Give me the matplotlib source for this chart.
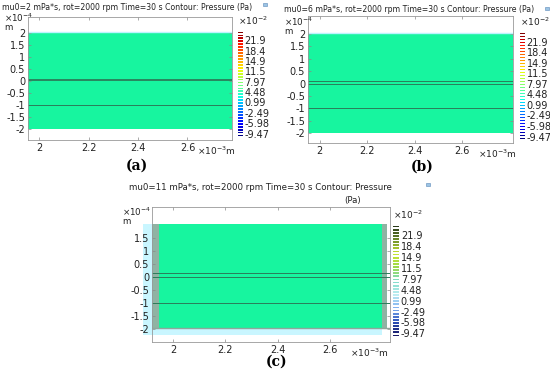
import matplotlib
matplotlib.use('Agg')
import matplotlib.pyplot as plt
import matplotlib.colors as mcolors
from matplotlib.patches import Rectangle
import numpy as np

# shared data
cbar_labels = [21.9, 18.4, 14.9, 11.5, 7.97, 4.48, 0.99, -2.49, -5.98, -9.47]
cbar_range = (-9.8, 24.9)
x_ticks = [2.0, 2.2, 2.4, 2.6]
x_ticklabels = ["2", "2.2", "2.4", "2.6"]

# panel (a)
title_a = "mu0=2 mPa*s, rot=2000 rpm Time=30 s Contour: Pressure (Pa)"
yticks_a = [2, 1.5, 1, 0.5, 0, -0.5, -1, -1.5, -2]
xlim_a = (1.955, 2.78)
ylim_a = (-2.46, 2.67)
fluid_a = (-2.0, 2.05)
band_a = (0.0, 0.08)
lines_a = [-1.0]

# panel (b)
title_b = "mu0=6 mPa*s, rot=2000 rpm Time=30 s Contour: Pressure (Pa)"
yticks_b = [2, 1.5, 1, 0.5, 0, -0.5, -1, -1.5, -2]
xlim_b = (1.95, 2.815)
ylim_b = (-2.4, 2.73)
fluid_b = (-2.0, 2.06)
lines_b = [0.0, 0.1, -1.0]

# panel (c)
title_c = "mu0=11 mPa*s, rot=2000 rpm Time=30 s Contour: Pressure"
yticks_c = [1.5, 1, 0.5, 0, -0.5, -1, -1.5, -2]
xlim_c = (1.92, 2.83)
ylim_c = (-2.5, 2.69)
fluid_c_x = (1.947, 2.80)
fluid_c_y = (-1.96, 2.04)
halo_c_x = (1.885, 2.80)
halo_c_y = (-2.23, 2.04)
wall_c = [(1.92, 1.947), (2.80, 2.82)]
lines_c = [0.0, 0.15, -1.0]

GREEN = '#17f59f'
LINE = '#2b7d5a'
W, H = 550, 373


def rect(l, t, r, b):
    return [l / W, (H - b) / H, (r - l) / W, (b - t) / H]


def style_axes(ax, xlim, ylim, yticks, left, unit_top, unit_dx):
    ax.set_xlim(*xlim)
    ax.set_ylim(*ylim)
    ax.set_xticks(x_ticks)
    ax.set_xticklabels(x_ticklabels)
    ax.set_yticks(yticks)
    ax.set_yticklabels([f"{v:g}" for v in yticks])
    ax.tick_params(direction='in', length=2, width=0.5, colors='#888888',
                   labelcolor='#222222', labelsize=7, pad=2,
                   top=True, right=True)
    for s in ax.spines.values():
        s.set_color('#999999')
        s.set_linewidth(0.6)
    ax.text(0.83, -0.035, "×10$^{-3}$m", transform=ax.transAxes, fontsize=6.5,
            ha='left', va='top', color='#222222')
    fig.text((left - unit_dx) / W, 1 - unit_top / H, "×10$^{-4}$", fontsize=6.3,
             ha='left', va='top', color='#222222')
    fig.text((left - unit_dx) / W, 1 - (unit_top + 11) / H, "m", fontsize=6.3,
             ha='left', va='top', color='#222222')


def colorbar(r, cmap):
    cax = fig.add_axes(rect(*r))
    levels = np.linspace(cbar_range[0], cbar_range[1], 36)
    step = levels[1] - levels[0]
    norm = mcolors.Normalize(*cbar_range)
    cax.barh(levels, 1, height=step * 0.6, color=cmap(norm(levels)), left=0)
    cax.set_xlim(0, 1)
    cax.set_ylim(cbar_range[0] - step / 2, cbar_range[1] + step / 2)
    cax.axis('off')
    for v in cbar_labels:
        cax.text(1.3, v, f"{v:g}", fontsize=7, va='center', ha='left', color='#222222')
    fig.text(r[0] / W, 1 - (r[1] - 4) / H, "×10$^{-2}$", fontsize=6.5,
             ha='left', va='bottom', color='#222222')


def icon(x, y):
    fig.patches.append(Rectangle((x / W, 1 - y / H), 4 / W, 3 / H, transform=fig.transFigure,
                                 facecolor='#9cc4e4', edgecolor='#5a88b8', lw=0.4))


fig = plt.figure(figsize=(5.5, 3.73), dpi=100)

# (a)
ax = fig.add_axes(rect(28, 17, 232, 140))
ax.axhspan(*fluid_a, color=GREEN, lw=0)
ax.axhline(fluid_a[1], color='#bdf3ff', lw=1)
ax.axhspan(*band_a, color=LINE, lw=0, alpha=0.9)
for y in lines_a:
    ax.axhline(y, color=LINE, lw=0.7)
style_axes(ax, xlim_a, ylim_a, yticks_a, 28, 12, 24)
fig.text(127 / W, 1 - 7 / H, title_a, fontsize=5.6, ha='center', va='center', color='#222222')
icon(263, 6)
colorbar((238, 31, 243, 137), plt.get_cmap('jet'))
fig.text(137 / W, 1 - 166 / H, "(a)", fontsize=10, family='DejaVu Serif',
         weight='bold', ha='center', va='center')

# (b)
ax = fig.add_axes(rect(308, 16, 513, 143))
ax.axhspan(*fluid_b, color=GREEN, lw=0)
ax.axhline(fluid_b[1], color='#bdf3ff', lw=1)
for y in lines_b:
    ax.axhline(y, color=LINE, lw=0.7)
style_axes(ax, xlim_b, ylim_b, yticks_b, 308, 16, 24)
fig.text(409 / W, 1 - 9 / H, title_b, fontsize=5.6, ha='center', va='center', color='#222222')
icon(545, 10)
colorbar((520, 32, 525, 140), plt.get_cmap('jet'))
fig.text(422 / W, 1 - 167 / H, "(b)", fontsize=10, family='DejaVu Serif',
         weight='bold', ha='center', va='center')

# (c)
ax = fig.add_axes(rect(152, 207, 390, 342))
ax.fill_between(halo_c_x, halo_c_y[0], halo_c_y[1], color='#c9f6ff', lw=0, clip_on=False)
ax.fill_between(fluid_c_x, fluid_c_y[0], fluid_c_y[1], color=GREEN, lw=0)
for x0, x1 in wall_c:
    ax.fill_between((x0, x1), fluid_c_y[0], fluid_c_y[1], color='#8fb3a3', lw=0)
ax.axhline(fluid_c_y[0], xmin=0, xmax=1, color='#8fa89c', lw=1)
for y in lines_c:
    ax.axhline(y, color=LINE, lw=0.7)
style_axes(ax, xlim_c, ylim_c, yticks_c, 152, 206, 30)
fig.text(260 / W, 1 - 188 / H, title_c, fontsize=6.2, ha='center', va='center', color='#222222')
fig.text(353 / W, 1 - 200 / H, "(Pa)", fontsize=6.2, ha='center', va='center', color='#222222')
icon(426, 186)
cmap_c = mcolors.LinearSegmentedColormap.from_list(
    'c', ['#1a1a66', '#2a4fb8', '#7fb0f0', '#bfeef2', '#7fdcc8', '#9ad84a',
          '#c8e632', '#6f8f2a', '#2a3a1a'])
colorbar((393, 225, 399, 337), cmap_c)
fig.text(277 / W, 1 - 362 / H, "(c)", fontsize=10, family='DejaVu Serif',
         weight='bold', ha='center', va='center')

fig.savefig('out.png', dpi=100)
